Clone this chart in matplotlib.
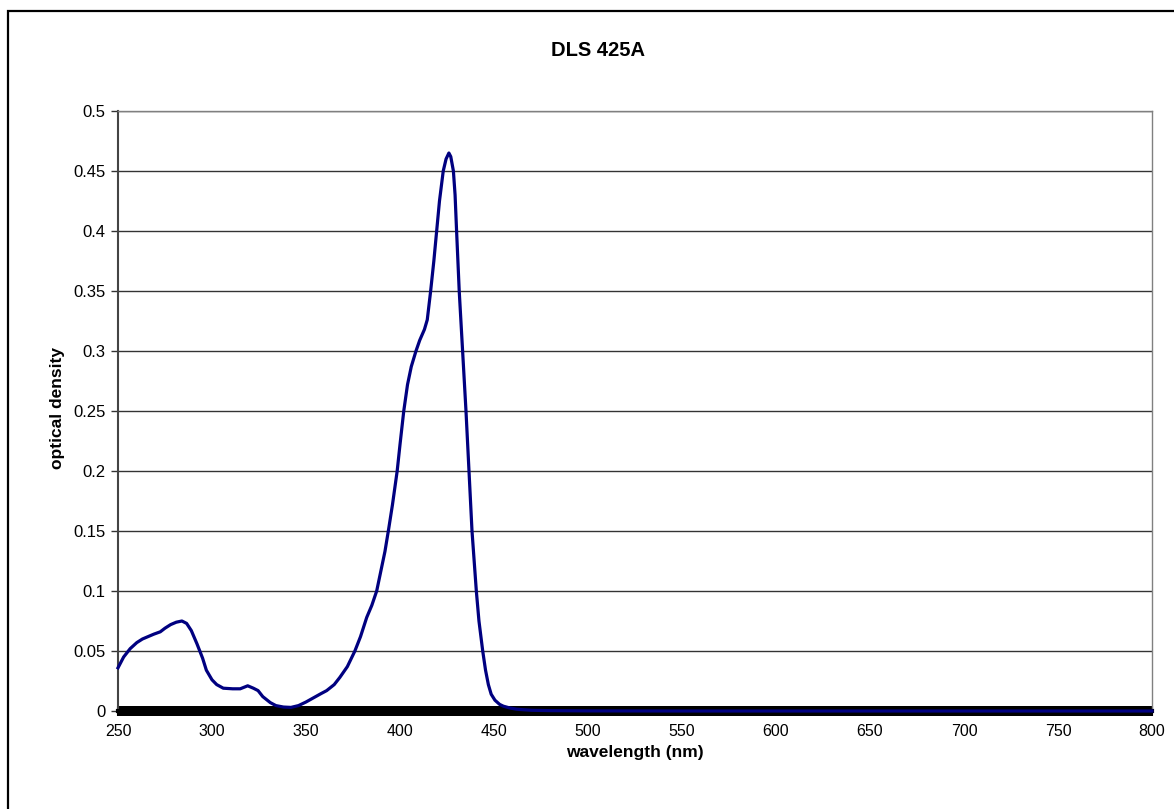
import matplotlib.pyplot as plt
from matplotlib.ticker import MultipleLocator
from matplotlib.patches import Rectangle

plt.rcParams['font.family'] = ['Liberation Sans', 'DejaVu Sans']

# wavelength (nm) and optical density
wavelength = [250, 253, 256.5, 260, 263, 266, 269, 272.5, 275, 278, 281, 284, 286.5,
              289, 292, 295, 297, 300, 302.5, 306, 311, 315, 319, 322, 324.5, 327,
              331, 334, 338, 342, 346, 350, 354, 358, 361, 365, 368, 372, 376, 379,
              382.3, 385, 387.6, 390, 392, 394, 396, 398.5, 400, 402, 404, 406, 408.5,
              410.5, 413, 414.5, 416.3, 418, 419.5, 421, 423, 424.5, 426, 427, 428.4,
              429.3, 430.1, 431.5, 433.3, 435.1, 436.7, 438.3, 440.6, 442, 444, 445.5,
              447, 448.5, 450.5, 453, 455, 458.5, 462, 466, 470, 480, 500, 550, 600,
              650, 700, 750, 800]
density = [0.036, 0.045, 0.052, 0.057, 0.060, 0.062, 0.064, 0.066, 0.069, 0.072,
           0.074, 0.075, 0.073, 0.067, 0.056, 0.044, 0.034, 0.026, 0.022, 0.019,
           0.0185, 0.0185, 0.021, 0.019, 0.017, 0.012, 0.007, 0.0045, 0.0033, 0.003,
           0.0045, 0.0075, 0.011, 0.0145, 0.017, 0.022, 0.028, 0.037, 0.05, 0.062,
           0.078, 0.088, 0.1, 0.118, 0.133, 0.152, 0.172, 0.2, 0.222, 0.25, 0.272,
           0.287, 0.3, 0.309, 0.318, 0.326, 0.35, 0.375, 0.4, 0.425, 0.45, 0.46, 0.465,
           0.462, 0.45, 0.43, 0.4, 0.35, 0.3, 0.25, 0.2, 0.15, 0.1, 0.075, 0.05, 0.034,
           0.022, 0.014, 0.009, 0.0055, 0.004, 0.0025, 0.0015, 0.001, 0.0006, 0.0003,
           0.0001, 0.0, 0.0, 0.0, 0.0, 0.0, 0.0]
yticks = [0, 0.05, 0.1, 0.15, 0.2, 0.25, 0.3, 0.35, 0.4, 0.45, 0.5]
ytick_labels = ['0', '0.05', '0.1', '0.15', '0.2', '0.25', '0.3', '0.35',
                '0.4', '0.45', '0.5']

W, H = 1174, 809
fig = plt.figure(figsize=(W / 100, H / 100), dpi=100)
ax = fig.add_axes([118 / W, 1 - 711 / H, (1152 - 118) / W, 600 / H])

ax.plot(wavelength, density, color='#000080', lw=2.3, zorder=3, clip_on=False)

ax.set_xlim(250, 800)
ax.set_ylim(0, 0.5)
ax.xaxis.set_major_locator(MultipleLocator(50))
ax.xaxis.set_minor_locator(MultipleLocator(1))
ax.set_yticks(yticks)
ax.set_yticklabels(ytick_labels)
ax.grid(axis='y', color='#333333', lw=1.0)
ax.set_axisbelow(True)

ax.tick_params(axis='x', which='both', direction='inout', length=7, width=1.5,
               color='black', labelsize=11.5, pad=6)
ax.tick_params(axis='y', direction='out', length=5, width=1, color='#333333',
               labelsize=12, pad=4)

for s in ['top', 'right']:
    ax.spines[s].set_color('#808080')
    ax.spines[s].set_linewidth(1)
ax.spines['left'].set_color('#444444')
ax.spines['left'].set_linewidth(1.5)
ax.spines['bottom'].set_color('black')
ax.spines['bottom'].set_linewidth(3)

fig.text(635 / W, 1 - 752 / H, 'wavelength (nm)', ha='center', va='center',
         fontsize=12.5, fontweight='bold')
fig.text(58 / W, 1 - 408 / H, 'optical density', ha='center', va='center',
         rotation=90, fontsize=12.5, fontweight='bold')
fig.text(598 / W, 1 - 51 / H, 'DLS 425A', ha='center', va='center',
         fontsize=14.5, fontweight='bold')

# outer chart frame (runs past the right and bottom edges)
fig.patches.append(Rectangle((8 / W, -0.1), 1.2, 1 - 11 / H + 0.1,
                             transform=fig.transFigure, fill=False,
                             edgecolor='black', lw=1.6))

fig.savefig('out.png', dpi=100)
